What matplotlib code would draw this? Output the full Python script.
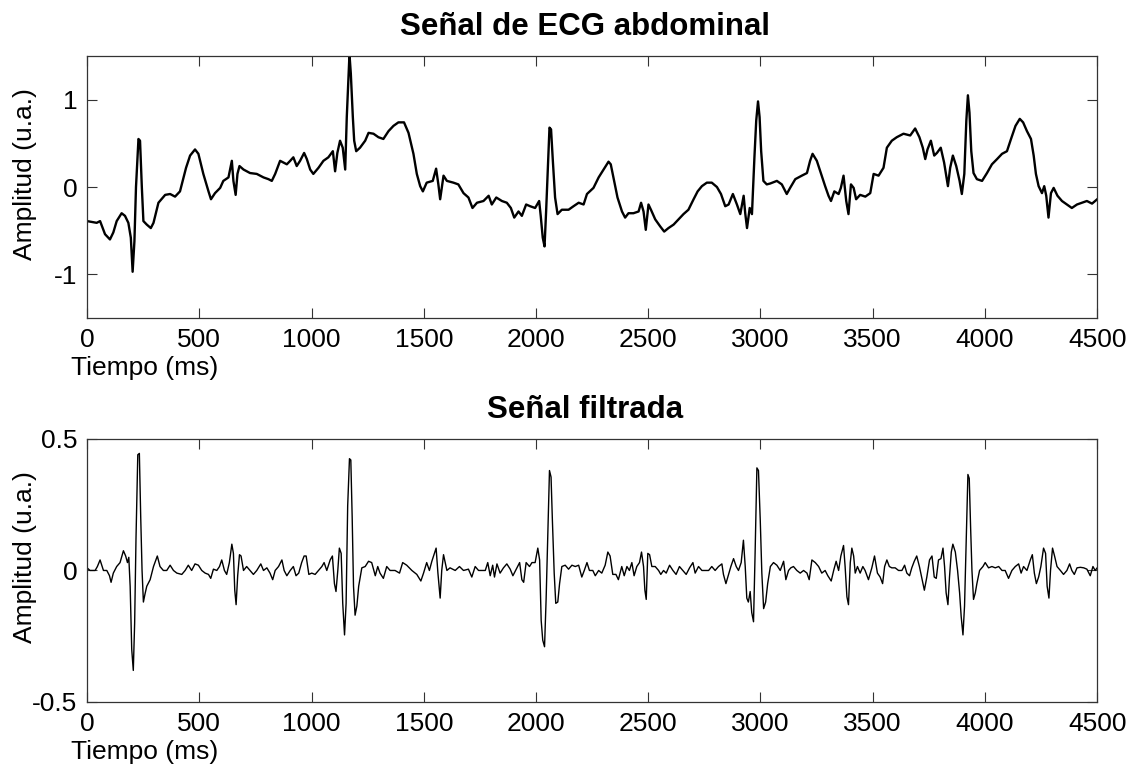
import matplotlib
matplotlib.use('Agg')
import matplotlib.pyplot as plt

plt.rcParams['font.family'] = ['Liberation Sans', 'DejaVu Sans']
plt.rcParams['axes.unicode_minus'] = False

# Señal de ECG abdominal (tiempo en ms, amplitud en u.a.)
t_abd = [0, 43, 58, 80, 102, 117, 132, 154, 169, 184, 195, 203, 211, 218, 229, 236, 244, 251,
         266, 284, 296, 318, 348, 370, 392, 414, 441, 459, 481, 496, 518, 541, 552, 570, 593,
         607, 630, 645, 652, 662, 670, 679, 697, 726, 756, 786, 808, 823, 838, 860, 890, 905,
         919, 934, 949, 967, 979, 994, 1008, 1031, 1053, 1075, 1095, 1105, 1115, 1127, 1139,
         1150, 1157, 1169, 1175, 1184, 1190, 1199, 1216, 1239, 1254, 1276, 1298, 1320, 1343,
         1365, 1387, 1412, 1432, 1454, 1469, 1484, 1496, 1513, 1540, 1555, 1565, 1573,
         1588, 1603, 1632, 1654, 1677, 1699, 1717, 1737, 1766, 1789, 1803, 1823, 1848, 1870,
         1888, 1903, 1922, 1937, 1956, 1974, 1996, 2014, 2021, 2030, 2038, 2045, 2053, 2060,
         2067, 2075, 2085, 2096, 2115, 2145, 2167, 2190, 2212, 2227, 2256, 2279, 2301, 2323,
         2333, 2348, 2363, 2383, 2397, 2412, 2434, 2457, 2468, 2479, 2489, 2501, 2512, 2531,
         2553, 2571, 2590, 2613, 2635, 2657, 2679, 2702, 2720, 2739, 2761, 2783, 2806, 2824,
         2843, 2858, 2877, 2895, 2910, 2925, 2932, 2940, 2952, 2962, 2973, 2981, 2989, 2996,
         3003, 3013, 3028,
         3043, 3073, 3095, 3117, 3132, 3155, 3184, 3207, 3221, 3232, 3251, 3269, 3288, 3303,
         3314, 3329, 3348, 3358, 3370, 3382, 3392, 3403, 3415, 3426, 3444, 3467, 3489, 3504,
         3526, 3548, 3563, 3585, 3607, 3637, 3667, 3689, 3708, 3723, 3734, 3744, 3759, 3774,
         3786, 3803, 3818, 3826, 3835, 3845, 3857, 3872, 3887, 3897, 3908, 3917, 3924, 3931,
         3939, 3949, 3964, 3987, 4009, 4031, 4054, 4076, 4098, 4116, 4136, 4155, 4170, 4187,
         4205, 4217, 4227, 4239, 4254, 4264, 4273, 4283, 4294, 4306, 4323, 4343, 4365, 4387,
         4410, 4432, 4454, 4477, 4500]
v_abd = [-0.39, -0.41, -0.39, -0.54, -0.60, -0.52, -0.39, -0.30, -0.33, -0.41, -0.58, -0.97,
         -0.62, 0.00, 0.55, 0.53, 0.00, -0.39, -0.43, -0.47, -0.41, -0.18, -0.09, -0.08, -0.11,
         -0.05, 0.22, 0.36, 0.43, 0.38, 0.15, -0.05, -0.14, -0.07, -0.01, 0.07, 0.11, 0.30,
         0.07, -0.09, 0.15, 0.24, 0.20, 0.16, 0.15, 0.11, 0.09, 0.07, 0.15, 0.30, 0.26, 0.30,
         0.34, 0.24, 0.30, 0.39, 0.32, 0.20, 0.15, 0.22, 0.30, 0.34, 0.41, 0.18, 0.39, 0.53,
         0.45, 0.20, 0.80, 1.52, 1.30, 0.80, 0.53, 0.41, 0.45, 0.53, 0.62, 0.61, 0.57, 0.55,
         0.64, 0.70, 0.74, 0.74, 0.62, 0.38, 0.15, 0.01, -0.05, 0.05, 0.07, 0.21, 0.03, -0.14,
         0.13, 0.07, 0.05, 0.03, -0.07, -0.12, -0.24, -0.18, -0.16, -0.10, -0.20, -0.12, -0.16,
         -0.18, -0.24, -0.35, -0.28, -0.33, -0.20, -0.22, -0.24, -0.16, -0.33, -0.58, -0.68,
         -0.28, 0.22, 0.68, 0.66, 0.30, -0.12, -0.31, -0.26, -0.26, -0.22, -0.18, -0.20, -0.08,
         -0.01, 0.11, 0.20, 0.29, 0.26, 0.07, -0.12, -0.28, -0.35, -0.30, -0.30, -0.28, -0.18,
         -0.28, -0.49, -0.20, -0.26, -0.37, -0.45, -0.51, -0.47, -0.43, -0.37, -0.31, -0.26,
         -0.14, -0.05, 0.01, 0.05, 0.05, 0.00, -0.08, -0.22, -0.20, -0.08, -0.20, -0.31, -0.10,
         -0.30, -0.47, -0.24, -0.31, 0.34, 0.76, 0.98, 0.80, 0.41, 0.07, 0.03,
         0.04, 0.07, 0.03, -0.08, -0.01, 0.09, 0.13, 0.16, 0.30, 0.38, 0.30, 0.16, 0.01, -0.10,
         -0.16, -0.05, -0.08, -0.01, 0.13, -0.16, -0.31, 0.03, -0.01, -0.14, -0.09, -0.11,
         -0.07, 0.15, 0.13, 0.22, 0.45, 0.53, 0.57, 0.61, 0.59, 0.67, 0.57, 0.45, 0.32, 0.43,
         0.53, 0.36, 0.39, 0.45, 0.28, 0.15, 0.01, 0.22, 0.36, 0.24, 0.07, -0.08, 0.15, 0.76,
         1.05, 0.85, 0.41, 0.16, 0.09, 0.07, 0.16, 0.26, 0.32, 0.38, 0.41, 0.55, 0.70, 0.78,
         0.74, 0.64, 0.55, 0.36, 0.15, 0.01, -0.07, 0.01, -0.10, -0.35, -0.07, -0.01, -0.10,
         -0.16, -0.20, -0.24, -0.20, -0.18, -0.16, -0.19, -0.14]

# Señal filtrada
t_fil = [0, 13, 36, 46, 58, 73, 88, 100, 107, 117, 132, 147, 162, 172, 180, 186, 192, 199,
         206, 212, 218, 226, 233, 239, 245, 251, 258, 266, 281, 296, 313, 325, 340, 355, 370,
         385, 400, 422, 437, 451, 466, 481, 496, 511, 526, 541, 551, 563, 578, 590, 600, 612,
         622, 634, 645, 652, 658, 664, 671, 679, 686, 697, 711, 726, 741, 756, 774, 786, 801,
         815, 827, 838, 853, 868, 878, 890, 905, 919, 931, 943, 956, 967, 976, 988, 1001,
         1016, 1031, 1046, 1056, 1068, 1083, 1093, 1102, 1109, 1117, 1124, 1132, 1139, 1147,
         1154, 1161, 1169, 1175, 1181, 1187, 1194, 1202, 1210, 1224, 1239, 1254, 1268, 1284,
         1295, 1305, 1320, 1335, 1350, 1372, 1392, 1406, 1424, 1447, 1469, 1487, 1499, 1513,
         1525, 1536, 1555, 1563, 1573, 1580,
         1588, 1603, 1617, 1640, 1659, 1677, 1699, 1714, 1729, 1744, 1759, 1774, 1785, 1796,
         1807, 1815, 1826, 1840, 1855, 1870, 1885, 1897, 1912, 1927, 1937, 1945, 1956, 1971,
         1982, 1996, 2008, 2016, 2023, 2030, 2038, 2045, 2053, 2060, 2067, 2073, 2081, 2088,
         2097, 2105, 2115, 2130, 2145, 2160, 2175, 2190, 2204, 2215, 2227, 2238, 2253, 2264,
         2279, 2293, 2308, 2320, 2330, 2342, 2356, 2367, 2382, 2393, 2405, 2416, 2427, 2437,
         2449, 2461, 2470, 2479, 2485, 2491, 2498, 2506, 2516, 2531, 2546, 2556, 2568, 2580,
         2595, 2610, 2624, 2639, 2654, 2669, 2684, 2699, 2709, 2724, 2739, 2754, 2769, 2783,
         2798, 2813, 2828, 2835, 2846, 2858, 2868, 2880, 2892, 2902, 2914, 2924, 2932, 2939,
         2946, 2954, 2961, 2969, 2976, 2984, 2991, 2999, 3006, 3014, 3023, 3032,
         3044, 3058, 3073, 3088, 3103, 3113, 3125, 3135, 3147, 3162, 3177, 3192, 3207, 3217,
         3229, 3244, 3259, 3273, 3288, 3300, 3315, 3326, 3337, 3348, 3358, 3370, 3377, 3385,
         3392, 3400, 3407, 3415, 3422, 3432, 3444, 3456, 3466, 3481, 3496, 3508, 3521, 3533,
         3544, 3553, 3563, 3574, 3585, 3600, 3615, 3630, 3642, 3652, 3664, 3674, 3685, 3696,
         3708, 3720, 3730, 3741, 3753, 3764, 3774, 3783, 3793, 3804, 3813, 3820, 3827, 3835,
         3842, 3850, 3857, 3868, 3878, 3887, 3894, 3902, 3909, 3917, 3924, 3930, 3936, 3942,
         3949, 3957, 3964, 3976, 3991, 4001, 4016, 4031, 4046, 4061, 4076, 4090, 4105, 4120,
         4135, 4150, 4161, 4172, 4187, 4202, 4211, 4220, 4229, 4239, 4249, 4261, 4270, 4277,
         4285, 4292, 4301, 4310, 4321, 4336, 4350, 4365, 4377, 4387, 4398, 4410, 4425, 4440,
         4454, 4469, 4481, 4491, 4500]
v_fil = [0.01, 0.0, 0.0, 0.015, 0.04, 0.0, 0.0, -0.02, -0.045, -0.01, 0.015, 0.03, 0.075,
         0.055, 0.03, 0.05, -0.06, -0.30, -0.38, -0.20, 0.12, 0.44, 0.445, 0.205, 0.0, -0.12,
         -0.09, -0.06, -0.035, 0.015, 0.055, 0.015, 0.0, 0.0, 0.02, 0.0, -0.01, -0.015, 0.0,
         0.02, 0.0, 0.025, 0.02, 0.0, -0.01, -0.015, -0.03, 0.005, 0.0, 0.015, 0.04, 0.0,
         -0.015, 0.03, 0.10, 0.065, -0.075, -0.13, -0.02, 0.06, 0.055, 0.0, 0.015, 0.0, -0.015,
         0.0, 0.025, 0.0, 0.01, -0.01, -0.035, 0.0, 0.015, 0.04, 0.0, -0.02, 0.0, 0.015,
         -0.02, -0.01, 0.03, 0.055, 0.055, -0.015, -0.01, -0.015, 0.0, 0.015, 0.03, 0.0, 0.04,
         0.055, -0.05, -0.08, 0.0, 0.085, 0.065, -0.125, -0.245, -0.125, 0.245, 0.425, 0.42,
         0.205, -0.06, -0.17, -0.135, -0.06, 0.01, 0.015, 0.035, 0.03, -0.02, 0.015, -0.01,
         -0.03, 0.015, 0.0, 0.0, -0.01, 0.03, 0.02, 0.0, -0.015, -0.04, -0.01, 0.03, 0.0, 0.035,
         0.085, -0.01, -0.105, 0.0,
         0.06, 0.0, 0.01, 0.0, 0.015, 0.0, 0.005, -0.025, 0.015, 0.0, 0.0, 0.0, 0.03, -0.02,
         0.02, -0.025, 0.025, -0.01, 0.01, 0.025, 0.005, -0.02, 0.005, 0.03, -0.035, -0.045,
         0.03, 0.015, 0.03, 0.03, 0.085, 0.04, -0.19, -0.265, -0.29, -0.11, 0.155, 0.38, 0.355,
         0.19, -0.01, -0.125, -0.12, -0.05, 0.015, 0.02, 0.005, 0.02, 0.015, 0.02, -0.025, 0.0,
         0.03, 0.0, 0.0, -0.02, 0.0, -0.01, 0.02, 0.07, 0.055, -0.015, -0.015, -0.035, 0.015,
         -0.02, 0.015, 0.0, 0.03, -0.02, 0.015, 0.03, 0.07, 0.015, -0.075, -0.11, 0.065, 0.06,
         0.015, 0.015, 0.0, -0.015, 0.0, -0.01, 0.02, 0.0, -0.015, 0.015, 0.0, -0.015, 0.01,
         0.03, -0.01, 0.015, 0.0, 0.0, 0.0, 0.015, 0.0, 0.015, 0.025, -0.015, -0.05, -0.015,
         0.015, 0.045, 0.015, 0.0, 0.03, 0.115, 0.015, -0.105, -0.12, -0.08, -0.16, -0.195,
         0.065, 0.39, 0.38, 0.19, -0.01, -0.145, -0.12, -0.05,
         0.015, 0.03, 0.02, 0.0, 0.035, -0.035, 0.0, 0.01, 0.015, 0.0, -0.01, 0.0, -0.01,
         -0.035, 0.04, 0.03, 0.015, -0.01, 0.0, -0.02, -0.04, 0.0, 0.035, 0.0, 0.055, 0.095,
         0.015, -0.10, -0.13, 0.03, 0.085, 0.055, -0.01, 0.015, -0.01, 0.015, 0.0, -0.035, 0.01,
         0.055, -0.01, -0.025, -0.05, 0.015, 0.04, 0.015, 0.01, 0.01, 0.0, 0.0, 0.02, -0.01,
         -0.02, 0.01, 0.035, 0.055, 0.015, -0.035, -0.075, -0.025, 0.04, 0.055, -0.025, -0.03,
         0.04, 0.045, 0.085, 0.015, -0.085, -0.13, -0.025, 0.07, 0.10, 0.07, 0.0, -0.085,
         -0.175, -0.245, -0.135, 0.14, 0.365, 0.35, 0.165, 0.0, -0.11, -0.085, -0.05, 0.0,
         0.015, 0.03, 0.01, 0.015, 0.01, 0.015, 0.0, 0.0, -0.03, 0.0, 0.015, 0.025, -0.01,
         0.015, 0.0, 0.04, 0.06, -0.01, -0.05, -0.025, 0.015, 0.085, 0.065, -0.06, -0.105, 0.0,
         0.085, 0.055, 0.015, 0.0, -0.015, 0.0, 0.025, 0.0, -0.015, 0.01, 0.012, 0.01, 0.005,
         -0.02, 0.015, 0.0, 0.01]

x_ticks = [0, 500, 1000, 1500, 2000, 2500, 3000, 3500, 4000, 4500]

fig = plt.figure(figsize=(11.35, 7.72), dpi=100)
ax1 = fig.add_axes([0.0767, 0.588, 0.890, 0.3395])
ax2 = fig.add_axes([0.0767, 0.0907, 0.890, 0.3407])


def style_axes(ax, title, yticks, ylim):
    ax.set_xlim(0, 4500)
    ax.set_ylim(*ylim)
    ax.set_xticks(x_ticks)
    ax.set_yticks(yticks)
    ax.tick_params(direction='in', length=7.5, width=0.8, top=True, right=True,
                   labelsize=19, pad=7, color='#333333')
    for sp in ax.spines.values():
        sp.set_color('#333333')
        sp.set_linewidth(0.9)
    ax.set_title(title, fontsize=22.5, fontweight='bold', pad=15, x=0.493)
    ax.set_xlabel('Tiempo (ms)', fontsize=19)
    ax.xaxis.set_label_coords(0.0574, -0.145)
    ax.set_ylabel('Amplitud (u.a.)', fontsize=19)
    ax.yaxis.set_label_coords(-0.05, 0.55)


ax1.plot(t_abd, v_abd, color='black', lw=1.7)
style_axes(ax1, 'Señal de ECG abdominal', [-1, 0, 1], (-1.5, 1.5))
ax1.set_yticklabels(['-1', '0', '1'])

ax2.plot(t_fil, v_fil, color='black', lw=1.0)
style_axes(ax2, 'Señal filtrada', [-0.5, 0, 0.5], (-0.5, 0.5))
ax2.set_yticklabels(['-0.5', '0', '0.5'])

fig.savefig('out.png', dpi=100)
